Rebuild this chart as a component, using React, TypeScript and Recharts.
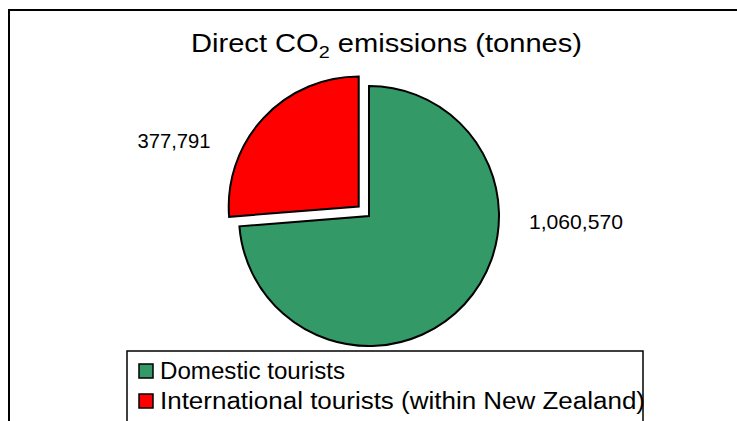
import React from "react";
import { PieChart, Pie, Cell, Legend, Customized } from "recharts";

const categories = ["Domestic tourists", "International tourists (within New Zealand)"];
const emissions = [1060570, 377791];
const colors = ["#339966", "#FF0000"];

const data = categories.map((name, i) => ({ name, value: emissions[i] }));

const FONT = '"Liberation Sans", Arial, sans-serif';
const CX = 369;
const CY = 216;
const R = 130;
const EXPLODE = 14;

// angle of the middle of the red (exploded) slice
const total = emissions.reduce((a, b) => a + b, 0);
const redMid = 90 - (360 * emissions[0]) / total - (180 * emissions[1]) / total;
const exDx = EXPLODE * Math.cos((redMid * Math.PI) / 180);
const exDy = -EXPLODE * Math.sin((redMid * Math.PI) / 180);

// where Excel put the data labels, relative to the pie centre
const labelSpots = [
  { dx: 207, dy: 5, size: 21, len: 94 },
  { dx: -195, dy: -75, size: 20, len: 73 },
];

const renderLabel = (props: any) => {
  const { index, value } = props;
  const s = labelSpots[index];
  return (
    <text
      x={CX + s.dx}
      y={CY + s.dy}
      textAnchor="middle"
      dominantBaseline="central"
      fontFamily={FONT}
      fontSize={s.size}
      textLength={s.len}
      lengthAdjust="spacingAndGlyphs"
      fill="#000"
    >
      {Number(value).toLocaleString("en-US")}
    </text>
  );
};

const Title = () => (
  <g>
    <rect x={9} y={10} width={740} height={430} fill="none" stroke="#000" strokeWidth={2} />
    <text
      x={191}
      y={52}
      fontFamily={FONT}
      fontSize={25}
      textLength={391}
      lengthAdjust="spacingAndGlyphs"
      fill="#000"
    >
      Direct CO
      <tspan fontSize={17} dy={6}>2</tspan>
      <tspan dy={-6}> emissions (tonnes)</tspan>
    </text>
  </g>
);

const LegendBox = () => (
  <svg width={520} height={80} style={{ display: "block", overflow: "visible" }}>
    <rect x={0} y={0} width={516} height={80} fill="#fff" stroke="#000" strokeWidth={1.5} />
    {categories.map((c, i) => (
      <g key={c}>
        <rect x={12} y={13 + i * 30} width={14} height={14} fill={colors[i]} stroke="#000" strokeWidth={1.5} />
        <text
          x={33}
          y={28 + i * 30}
          fontFamily={FONT}
          fontSize={23}
          textLength={i === 0 ? 185 : 485}
          lengthAdjust="spacingAndGlyphs"
          fill="#000"
        >
          {c}
        </text>
      </g>
    ))}
  </svg>
);

export default function App() {
  return (
    <div style={{ position: "absolute", left: 0, top: 0, width: 737, height: 421, overflow: "hidden", background: "#fff" }}>
      <PieChart width={737} height={421} margin={{ top: 0, right: 0, bottom: 0, left: 0 }}>
        <Customized component={Title} />
        <Pie
          data={data}
          dataKey="value"
          nameKey="name"
          cx={CX}
          cy={CY}
          outerRadius={R}
          startAngle={90}
          endAngle={-270}
          stroke="#000"
          strokeWidth={2}
          label={renderLabel}
          labelLine={false}
          legendType="square"
          isAnimationActive={false}
        >
          {data.map((d, i) => (
            <Cell key={d.name} fill={i === 0 ? colors[0] : "none"} stroke={i === 0 ? "#000" : "none"} />
          ))}
        </Pie>
        <Pie
          data={data}
          dataKey="value"
          nameKey="name"
          cx={CX + exDx}
          cy={CY + exDy}
          outerRadius={R}
          startAngle={90}
          endAngle={-270}
          stroke="#000"
          strokeWidth={2}
          labelLine={false}
          legendType="none"
          isAnimationActive={false}
        >
          {data.map((d, i) => (
            <Cell key={d.name} fill={i === 1 ? colors[1] : "none"} stroke={i === 1 ? "#000" : "none"} />
          ))}
        </Pie>
        <Legend
          content={() => <LegendBox />}
          wrapperStyle={{ position: "absolute", left: 127, top: 351, width: 520, height: 80 }}
        />
      </PieChart>
    </div>
  );
}
